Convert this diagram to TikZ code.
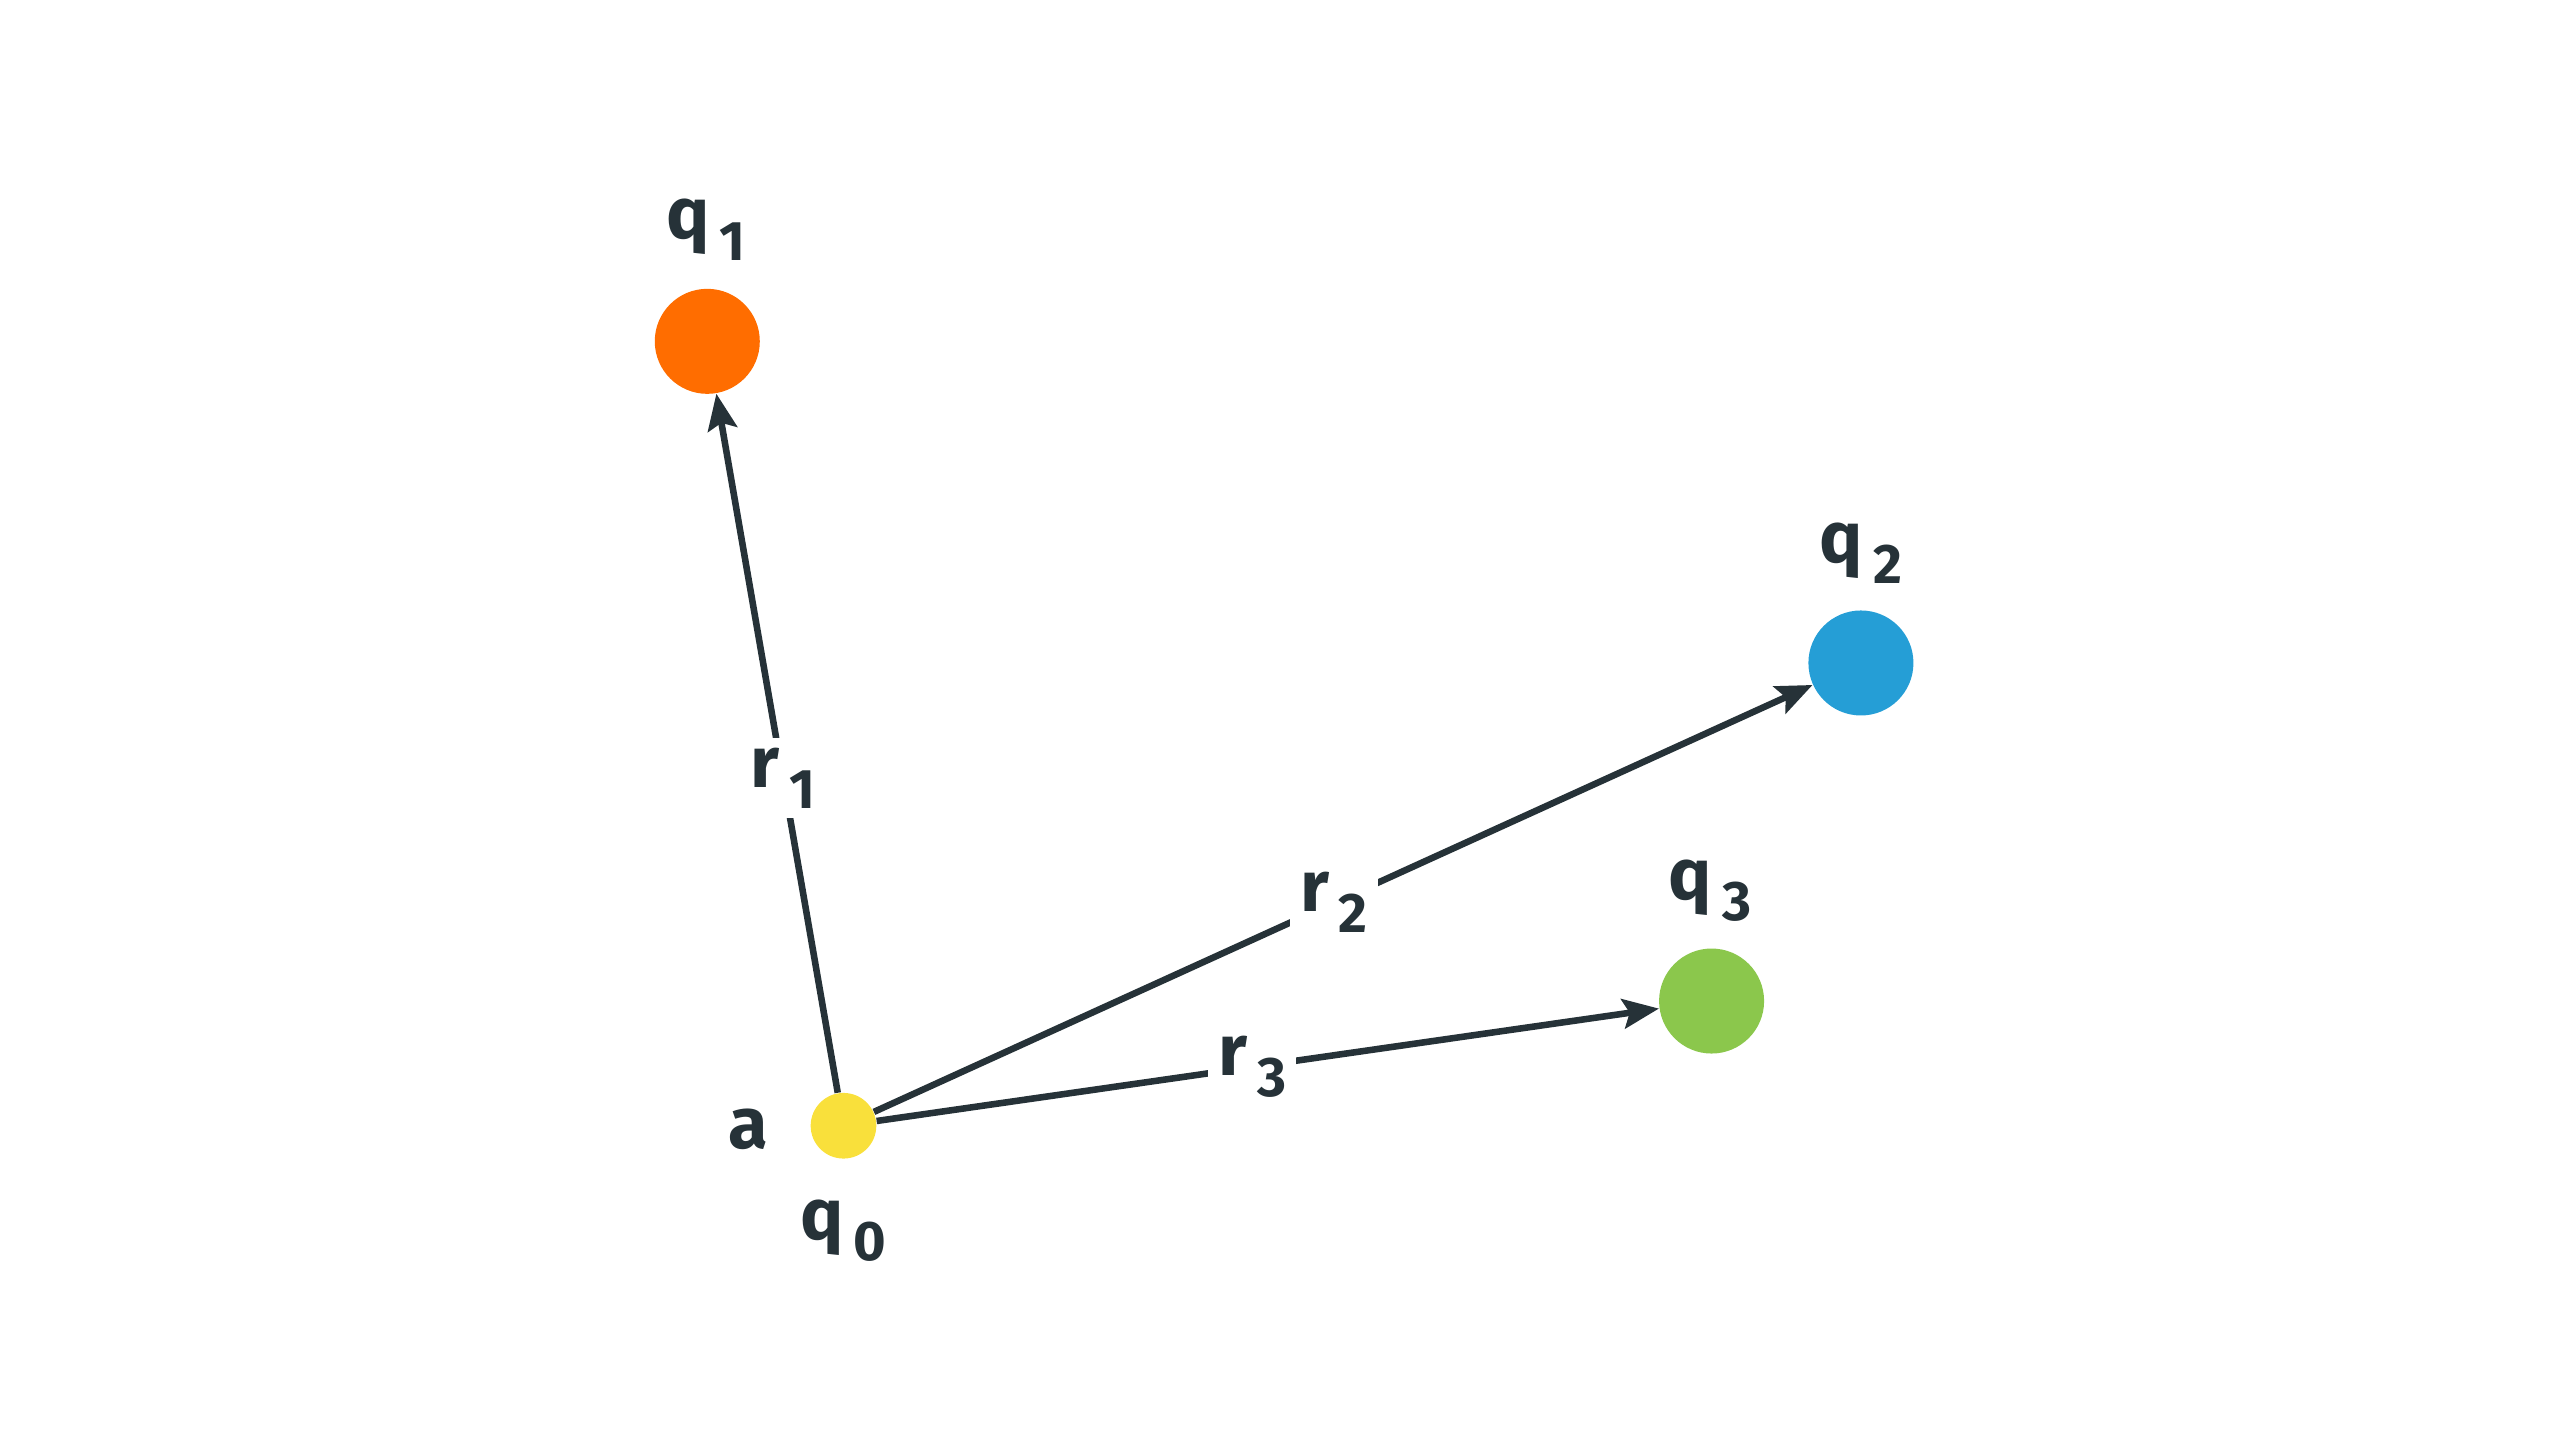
\documentclass[tikz,border=0pt]{standalone}
\usepackage{fontspec}
\setmainfont{Fira Sans}[Numbers=Lining]
\usetikzlibrary{arrows.meta}
\definecolor{ln}{HTML}{263238}
\definecolor{cy}{HTML}{F9E03B}
\definecolor{co}{HTML}{FF6D00}
\definecolor{cb}{HTML}{259ED6}
\definecolor{cg}{HTML}{8BC74C}
\newcommand{\lab}[2]{#1\hspace{3pt}\raisebox{-0.55ex}{\fontsize{17}{17}\selectfont #2}}
\tikzset{
 dot/.style={circle,inner sep=0pt,minimum size=#1},
 txt/.style={text=ln,font=\fontsize{22}{22}\selectfont\bfseries,inner sep=1pt},
 elab/.style={txt,fill=white,inner sep=3pt},
 con/.style={draw=ln,line width=2pt,-{Stealth[length=11pt,width=9pt,inset=2pt,fill=ln]}}
}
\begin{document}
\begin{tikzpicture}[x=0.5pt,y=-0.5pt]
\useasboundingbox (0,0) rectangle (1560,877.5);
\node[dot=20pt,fill=cy] (a) at (514,686) {};
\node[dot=32pt,fill=co] (q1) at (431,208) {};
\node[dot=32pt,fill=cb] (q2) at (1134,404) {};
\node[dot=32pt,fill=cg] (q3) at (1043,610) {};
\node[txt] (l1) at (430,140) {\lab{q}{1}};
\node[txt] (l2) at (1134,337) {\lab{q}{2}};
\node[txt] (l3) at (1042,543) {\lab{q}{3}};
\node[txt] (l0) at (514,750) {\lab{q}{0}};
\node[txt] (la) at (456,688) {a};
\draw[con] (a) -- node[elab,pos=0.45] {\lab{r}{1}} (q1);
\draw[con] (a) -- node[elab,pos=0.49] {\lab{r}{2}} (q2);
\draw[con] (a) -- node[elab,pos=0.48] {\lab{r}{3}} (q3);
\end{tikzpicture}
\end{document}
